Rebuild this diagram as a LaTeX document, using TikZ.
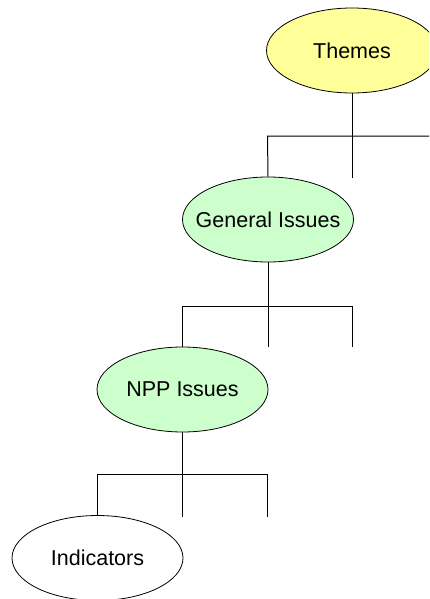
\documentclass[tikz,border=0pt]{standalone}
\usepackage{fontspec}
\setmainfont{Liberation Sans}
\usetikzlibrary{shapes.geometric}
\definecolor{themeyellow}{HTML}{FFFF99}
\definecolor{issuegreen}{HTML}{CCFFCC}
\tikzset{
  oval/.style={ellipse, draw=black, line width=0.8pt, minimum width=171pt, minimum height=85pt, inner sep=0pt},
  ovaltext/.style={font=\fontsize{21.5}{25}\selectfont, inner sep=0pt},
  conn/.style={draw=black, line width=1pt}
}
\begin{document}
\begin{tikzpicture}[x=1pt,y=-1pt]
\useasboundingbox (0,0) rectangle (429,599);
\clip (0,0) rectangle (429,599);
\node[oval, fill=themeyellow, label={[ovaltext]center:Themes}] (themes) at (352,50.5) {};
\node[oval, fill=issuegreen, label={[ovaltext]center:General Issues}] (general) at (268,219.5) {};
\node[oval, fill=issuegreen, label={[ovaltext]center:NPP Issues}] (npp) at (182.5,389.5) {};
\node[oval, fill=white, label={[ovaltext]center:Indicators}] (ind) at (97.5,558) {};
% level 1
\coordinate (b1) at (352,136);
\coordinate (l1a) at (267.5,136);
\coordinate (l1c) at (437,136);
\coordinate (e1b) at (352,178);
\coordinate (e1c) at (437,178);
\draw[conn] (themes.south) -- (b1);
\draw[conn] (general.north) -- (l1a) -- (l1c) -- (e1c);
\draw[conn] (b1) -- (e1b);
% level 2
\coordinate (b2) at (268,306);
\coordinate (l2a) at (182.5,306);
\coordinate (l2c) at (352.5,306);
\coordinate (e2b) at (268,347);
\coordinate (e2c) at (352.5,347);
\draw[conn] (general.south) -- (b2);
\draw[conn] (npp.north) -- (l2a) -- (l2c) -- (e2c);
\draw[conn] (b2) -- (e2b);
% level 3
\coordinate (b3) at (182.5,474);
\coordinate (l3a) at (97.5,474);
\coordinate (l3c) at (267,474);
\coordinate (e3b) at (182.5,517);
\coordinate (e3c) at (267,517);
\draw[conn] (npp.south) -- (b3);
\draw[conn] (ind.north) -- (l3a) -- (l3c) -- (e3c);
\draw[conn] (b3) -- (e3b);
\end{tikzpicture}
\end{document}
